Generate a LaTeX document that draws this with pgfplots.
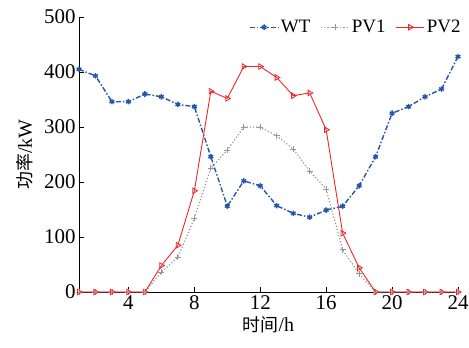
\documentclass[border=0pt]{standalone}
\usepackage{fontspec}
\setmainfont{Liberation Serif}
\newfontfamily\cjk{Noto Sans CJK SC}
\usepackage{pgfplots}
\pgfplotsset{compat=1.18}
\definecolor{wtblue}{RGB}{35,85,170}
\definecolor{pvgray}{RGB}{150,150,150}
\definecolor{pvred}{RGB}{235,40,40}
\begin{document}
\begin{tikzpicture}
\useasboundingbox (-79bp,-56bp) rectangle (390bp,292bp);
\begin{axis}[
  at={(0,0)}, anchor=south west,
  scale only axis, width=379bp, height=275bp,
  xmin=1, xmax=24, ymin=0, ymax=500,
  xtick={4,8,12,16,20,24}, ytick={0,100,200,300,400,500},
  axis x line*=bottom, axis y line*=left,
  axis line style={-, line width=0.8pt},
  tick align=inside, major tick length=5bp,
  tick style={line width=0.6pt, black},
  font=\fontsize{19}{22}\selectfont,
  tick label style={font=\fontsize{21}{24}\selectfont},
  /pgf/number format/assume math mode=true,
  xlabel={{\cjk\fontsize{18}{20}\selectfont 时间}/h},
  ylabel={{\cjk\fontsize{18}{20}\selectfont 功率}/kW},
  xlabel style={font=\fontsize{20}{22}\selectfont, yshift=0bp},
  ylabel style={font=\fontsize{20}{22}\selectfont, yshift=4bp},
  legend style={draw=none, fill=none, at={(1.015,1.0)}, anchor=north east,
    legend columns=3, /tikz/every even column/.append style={column sep=8bp},
    font=\fontsize{19}{22}\selectfont, inner sep=1bp},
  legend image code/.code={\draw[mark repeat=2,mark phase=2] plot coordinates {(0cm,0cm)(0.5cm,0cm)(1.0cm,0cm)};},
  legend cell align=left,
  clip=false,
]
\addplot[color=wtblue, line width=1.4pt, dash pattern=on 5pt off 2pt on 1.5pt off 2pt,
  mark=asterisk, mark size=2.8pt, mark options={solid, line width=1.4pt}]
coordinates {(1,405)(2,393)(3,346)(4,346)(5,360)(6,355)(7,341)(8,337)(9,246)(10,156)
(11,202)(12,193)(13,157)(14,143)(15,136)(16,149)(17,156)(18,193)(19,246)(20,325)
(21,337)(22,355)(23,369)(24,428)};
\addlegendentry{WT}
\addplot[color=pvgray, line width=1.2pt, dotted,
  mark=+, mark size=3pt, mark options={solid, line width=0.8pt}]
coordinates {(1,0)(2,0)(3,0)(4,0)(5,0)(6,36)(7,63)(8,134)(9,225)(10,258)
(11,300)(12,300)(13,284)(14,260)(15,220)(16,187)(17,77)(18,33)(19,0)(20,0)
(21,0)(22,0)(23,0)(24,0)};
\addlegendentry{PV1}
\addplot[color=pvred, line width=0.9pt,
  mark=triangle, mark size=3.2pt, mark options={solid, rotate=-90, line width=0.8pt}]
coordinates {(1,0)(2,0)(3,0)(4,0)(5,0)(6,48)(7,85)(8,184)(9,365)(10,352)
(11,410)(12,410)(13,390)(14,357)(15,362)(16,295)(17,107)(18,44)(19,0)(20,0)
(21,0)(22,0)(23,0)(24,0)};
\addlegendentry{PV2}
\end{axis}
\end{tikzpicture}
\end{document}
